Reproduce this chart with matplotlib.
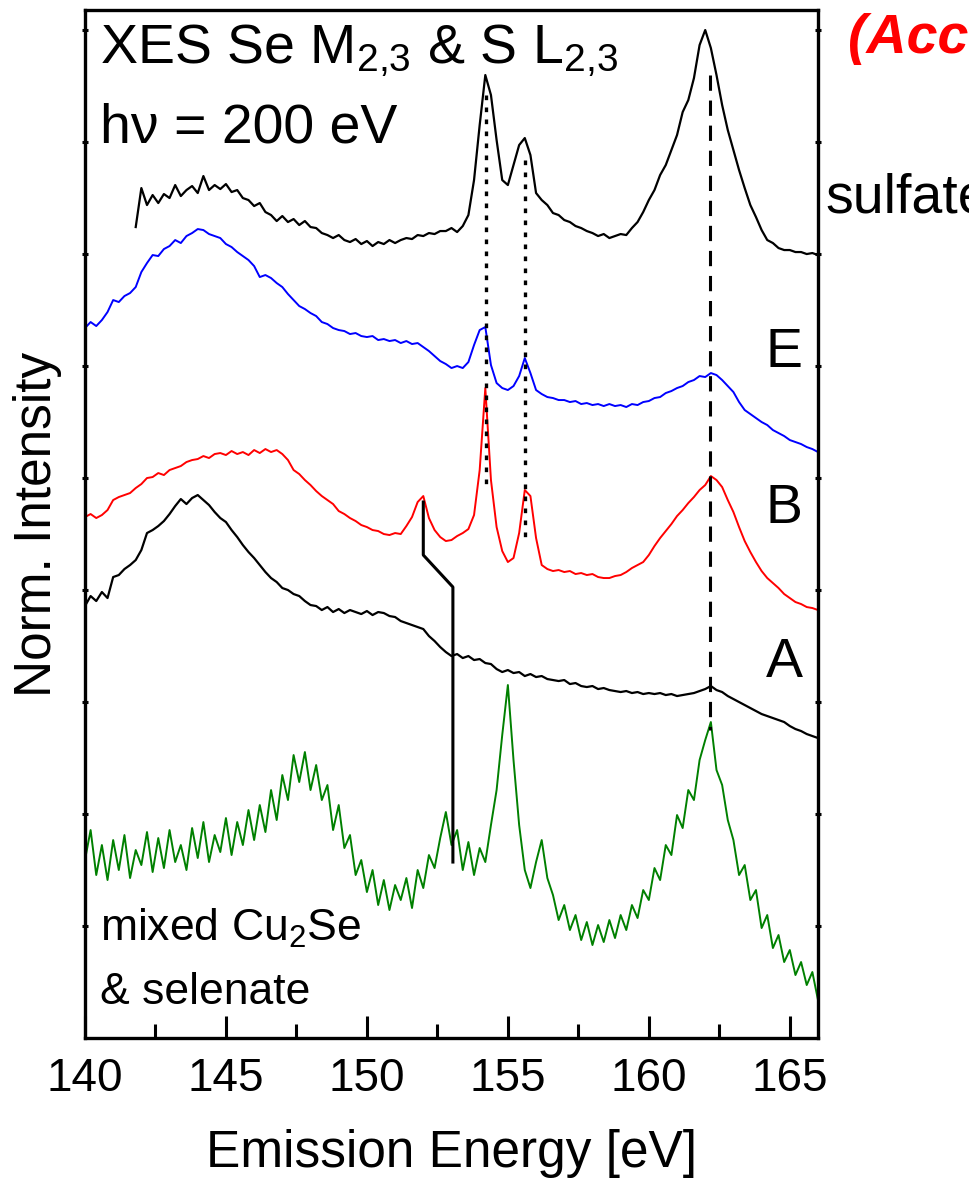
import numpy as np
import matplotlib
matplotlib.use('Agg')
import matplotlib.pyplot as plt
from matplotlib.ticker import MultipleLocator

plt.rcParams['font.family'] = ['Liberation Sans', 'DejaVu Sans']
plt.rcParams['mathtext.fontset'] = 'custom'
plt.rcParams['mathtext.rm'] = 'Liberation Sans'
plt.rcParams['mathtext.it'] = 'Liberation Sans:italic'

# energy grid [eV], 0.2 eV steps
energy = np.round(np.arange(140.0, 166.01, 0.2), 1)

# stacked spectra, arb. units (offsets included)
sulfate_start = 141.8
sulfate = [811, 850, 833, 843, 835, 844, 840, 853, 842, 848,
           852, 845, 862, 848, 853, 849, 854, 846, 848, 840,
           838, 832, 835, 826, 823, 817, 822, 816, 819, 813,
           817, 811, 810, 805, 803, 800, 803, 798, 796, 799,
           794, 797, 792, 796, 794, 798, 795, 798, 800, 799,
           803, 802, 805, 804, 807, 807, 810, 806, 812, 823,
           858, 913, 963, 943, 898, 858, 853, 873, 893, 900,
           883, 845, 838, 833, 825, 823, 818, 816, 812, 810,
           807, 805, 802, 804, 800, 802, 804, 803, 810, 816,
           826, 838, 848, 863, 873, 888, 903, 926, 938, 960,
           993, 1008, 990, 963, 933, 908, 888, 868, 850, 833,
           821, 808, 798, 795, 790, 788, 788, 786, 786, 784,
           785, 783]

sample_E = [710, 716, 712, 718, 726, 738, 736, 742, 745, 751,
            766, 775, 783, 782, 789, 792, 798, 795, 802, 805,
            809, 808, 804, 802, 800, 794, 791, 786, 782, 778,
            772, 761, 763, 760, 755, 751, 744, 738, 732, 729,
            725, 722, 716, 714, 710, 708, 707, 704, 705, 702,
            701, 702, 698, 699, 697, 698, 695, 697, 694, 695,
            691, 687, 682, 677, 674, 670, 672, 670, 676, 693,
            708, 711, 673, 655, 650, 648, 652, 662, 680, 665,
            648, 644, 641, 640, 638, 638, 636, 637, 634, 635,
            633, 634, 632, 634, 632, 633, 631, 634, 633, 636,
            637, 640, 641, 645, 647, 650, 652, 656, 658, 662,
            661, 665, 663, 658, 652, 646, 636, 628, 624, 620,
            616, 613, 608, 605, 602, 598, 596, 594, 591, 589,
            586]

sample_B = [521, 524, 520, 523, 528, 538, 541, 543, 545, 550,
            554, 560, 561, 565, 563, 568, 570, 572, 576, 578,
            579, 582, 580, 584, 585, 583, 587, 584, 586, 583,
            588, 585, 589, 586, 588, 584, 578, 568, 564, 558,
            553, 547, 542, 538, 534, 527, 524, 520, 517, 513,
            511, 508, 507, 504, 503, 505, 504, 512, 521, 536,
            542, 520, 508, 501, 497, 498, 502, 505, 509, 523,
            568, 650, 558, 511, 487, 476, 480, 505, 548, 542,
            500, 473, 469, 467, 468, 466, 467, 464, 465, 463,
            464, 461, 460, 460, 462, 463, 466, 470, 473, 476,
            483, 492, 500, 507, 514, 522, 528, 535, 541, 548,
            553, 562, 558, 551, 538, 526, 511, 497, 486, 476,
            467, 460, 455, 450, 444, 440, 436, 434, 431, 430,
            428]

sample_A = [432, 442, 437, 446, 440, 461, 463, 469, 473, 478,
            488, 505, 508, 512, 517, 524, 532, 539, 534, 540,
            543, 538, 533, 526, 520, 516, 508, 501, 493, 486,
            480, 473, 466, 460, 456, 450, 448, 444, 442, 437,
            433, 432, 428, 431, 426, 429, 425, 428, 426, 424,
            427, 423, 426, 425, 422, 421, 417, 415, 413, 411,
            409, 402, 397, 391, 386, 382, 384, 380, 382, 378,
            379, 375, 374, 369, 366, 368, 365, 366, 362, 364,
            361, 362, 359, 358, 357, 358, 354, 355, 352, 351,
            352, 349, 350, 348, 347, 346, 347, 345, 346, 344,
            345, 344, 345, 343, 344, 342, 343, 344, 345, 347,
            349, 352, 348, 346, 342, 339, 336, 333, 330, 327,
            324, 322, 320, 318, 316, 312, 309, 307, 304, 302,
            300]

mixed = [178, 208, 163, 193, 158, 198, 168, 203, 160, 188,
         173, 206, 166, 200, 170, 208, 176, 193, 168, 210,
         180, 216, 176, 203, 186, 220, 183, 216, 193, 228,
         198, 233, 206, 248, 218, 263, 238, 283, 256, 286,
         248, 273, 238, 253, 208, 233, 190, 203, 163, 178,
         146, 168, 133, 158, 128, 153, 138, 160, 130, 168,
         150, 183, 170, 200, 226, 193, 208, 168, 196, 163,
         190, 176, 213, 248, 303, 353, 278, 213, 168, 150,
         176, 198, 160, 143, 118, 133, 108, 123, 98, 116,
         93, 113, 96, 118, 100, 123, 108, 133, 120, 148,
         138, 170, 158, 193, 183, 223, 210, 248, 238, 278,
         298, 316, 268, 253, 218, 198, 163, 173, 138, 148,
         110, 123, 90, 103, 76, 88, 63, 76, 53, 66,
         38]

# guide lines: S L2,3 peaks (dotted), sulfate peak (dashed), Se shift (solid)
dot_x = [154.22, 155.6]
dot_top = [943, 878]
dot_bottom = [553, 495]
dash_x = 162.18
dash_span = [963, 308]
shift_x = [152.0, 152.0, 153.05, 153.05]
shift_y = [536, 483, 451, 176]

fontsize = 40

fig = plt.figure(figsize=(9.7, 11.82), dpi=100)
ax = fig.add_axes([0.0876, 0.1218, 0.7557, 0.8697])

ax.plot(energy[energy >= sulfate_start - 0.01], sulfate, color='black', lw=1.6)
ax.plot(energy, sample_E, color='blue', lw=1.4)
ax.plot(energy, sample_B, color='red', lw=1.4)
ax.plot(energy, sample_A, color='black', lw=1.6)
ax.plot(energy, mixed, color='green', lw=1.4)

for x, y0, y1 in zip(dot_x, dot_top, dot_bottom):
    ax.plot([x, x], [y0, y1], color='black', lw=2.4, linestyle=(0, (1.4, 2.2)))
ax.plot([dash_x, dash_x], dash_span, color='black', lw=2.2, linestyle=(0, (5, 3.2)))
ax.plot(shift_x, shift_y, color='black', lw=2.2)

ax.set_xlim(140, 166)
ax.set_ylim(0, 1028)
ax.xaxis.set_major_locator(MultipleLocator(5))
ax.xaxis.set_minor_locator(MultipleLocator(2.5))
ax.set_yticks(np.arange(1, 10) * 112)
ax.tick_params(axis='x', which='major', direction='in', length=16, width=2.2,
               labelsize=33, pad=14, top=False)
ax.tick_params(axis='x', which='minor', direction='in', length=10, width=2.2, top=False)
ax.tick_params(axis='y', direction='inout', length=5, width=2.2,
               left=True, right=True, labelleft=False)
for s in ax.spines.values():
    s.set_linewidth(2.4)

ax.set_xlabel('Emission Energy [eV]', fontsize=37, labelpad=20)
ax.set_ylabel('Norm. Intensity', fontsize=37, labelpad=14)

ax.text(140.53, 975, r'XES Se M$_{2{,}3}$ & S L$_{2{,}3}$', fontsize=fontsize, va='baseline')
ax.text(140.53, 896, 'hν = 200 eV', fontsize=fontsize, va='baseline')
ax.text(166.25, 826, 'sulfate', fontsize=fontsize, va='baseline', clip_on=False)
ax.text(165.45, 671, 'E', fontsize=fontsize, va='baseline', ha='right')
ax.text(165.45, 515, 'B', fontsize=fontsize, va='baseline', ha='right')
ax.text(165.45, 361, 'A', fontsize=fontsize, va='baseline', ha='right')
ax.text(140.53, 97, r'mixed Cu$_2$Se', fontsize=32, va='baseline')
ax.text(140.53, 34, '& selenate', fontsize=32, va='baseline')
ax.text(167.05, 985, '(Accepted)', fontsize=40, color='red', fontweight='bold',
        fontstyle='italic', va='baseline', clip_on=False)

plt.savefig('out.png', dpi=100)
